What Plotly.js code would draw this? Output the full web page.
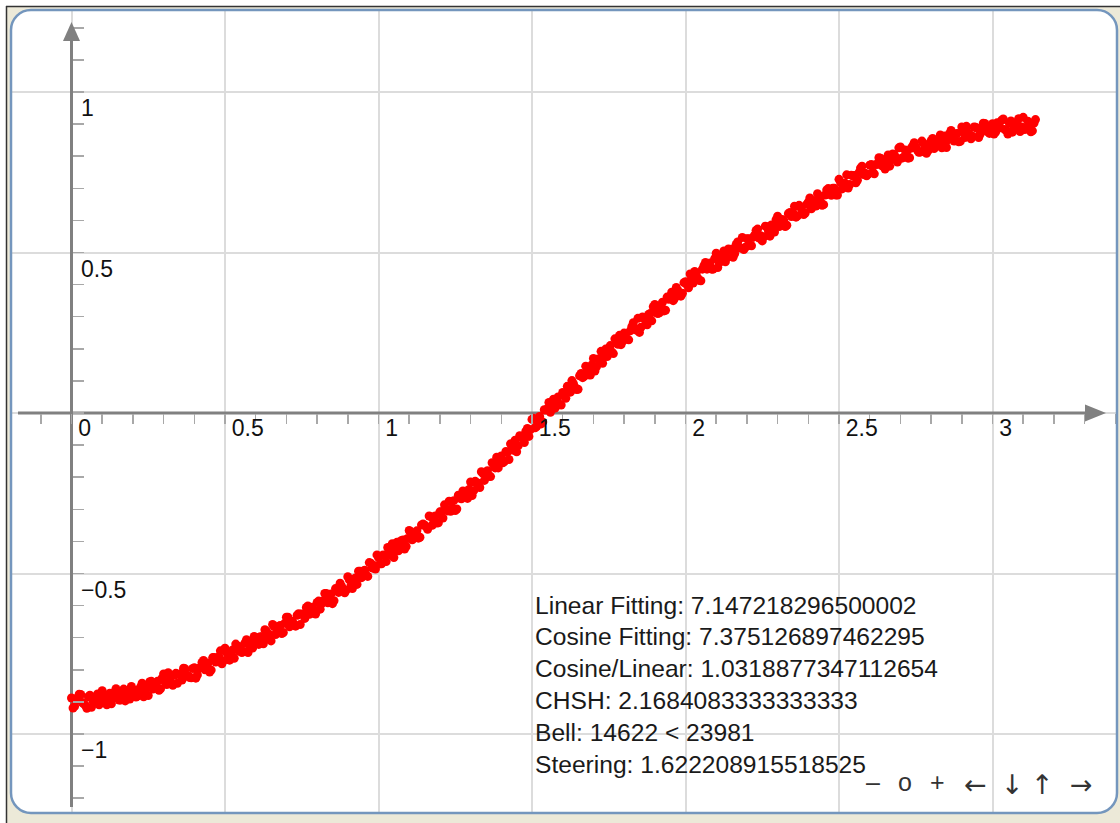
<!DOCTYPE html>
<html><head><meta charset="utf-8">
<script src="https://cdn.plot.ly/plotly-3.0.1.min.js"></script>
<style>html,body{margin:0;padding:0;background:#fff}#chart{width:1120px;height:823px}</style>
</head><body><div id="chart"></div>
<script>
// ---- data (two interleaved batches of samples) ----
const xBatchA = [
0,0.01,0.02,0.03,0.04,0.05,0.06,0.07,0.08,0.09,
0.10,0.11,0.12,0.13,0.14,0.15,0.16,0.17,0.18,0.19,
0.20,0.21,0.22,0.23,0.24,0.25,0.26,0.27,0.28,0.29,
0.30,0.31,0.32,0.33,0.34,0.35,0.36,0.37,0.38,0.39,
0.40,0.41,0.42,0.43,0.44,0.45,0.46,0.47,0.48,0.49,
0.50,0.51,0.52,0.53,0.54,0.55,0.56,0.57,0.58,0.59,
0.60,0.61,0.62,0.63,0.64,0.65,0.66,0.67,0.68,0.69,
0.70,0.71,0.72,0.73,0.74,0.75,0.76,0.77,0.78,0.79,
0.80,0.81,0.82,0.83,0.84,0.85,0.86,0.87,0.88,0.89,
0.90,0.91,0.92,0.93,0.94,0.95,0.96,0.97,0.98,0.99,
1.00,1.01,1.02,1.03,1.04,1.05,1.06,1.07,1.08,1.09,
1.10,1.11,1.12,1.13,1.14,1.15,1.16,1.17,1.18,1.19,
1.20,1.21,1.22,1.23,1.24,1.25,1.26,1.27,1.28,1.29,
1.30,1.31,1.32,1.33,1.34,1.35,1.36,1.37,1.38,1.39,
1.40,1.41,1.42,1.43,1.44,1.45,1.46,1.47,1.48,1.49,
1.50,1.51,1.52,1.53,1.54,1.55,1.56,1.57,1.58,1.59,
1.60,1.61,1.62,1.63,1.64,1.65,1.66,1.67,1.68,1.69,
1.70,1.71,1.72,1.73,1.74,1.75,1.76,1.77,1.78,1.79,
1.80,1.81,1.82,1.83,1.84,1.85,1.86,1.87,1.88,1.89,
1.90,1.91,1.92,1.93,1.94,1.95,1.96,1.97,1.98,1.99,
2.00,2.01,2.02,2.03,2.04,2.05,2.06,2.07,2.08,2.09,
2.10,2.11,2.12,2.13,2.14,2.15,2.16,2.17,2.18,2.19,
2.20,2.21,2.22,2.23,2.24,2.25,2.26,2.27,2.28,2.29,
2.30,2.31,2.32,2.33,2.34,2.35,2.36,2.37,2.38,2.39,
2.40,2.41,2.42,2.43,2.44,2.45,2.46,2.47,2.48,2.49,
2.50,2.51,2.52,2.53,2.54,2.55,2.56,2.57,2.58,2.59,
2.60,2.61,2.62,2.63,2.64,2.65,2.66,2.67,2.68,2.69,
2.70,2.71,2.72,2.73,2.74,2.75,2.76,2.77,2.78,2.79,
2.80,2.81,2.82,2.83,2.84,2.85,2.86,2.87,2.88,2.89,
2.90,2.91,2.92,2.93,2.94,2.95,2.96,2.97,2.98,2.99,
3.00,3.01,3.02,3.03,3.04,3.05,3.06,3.07,3.08,3.09,
3.10,3.11,3.12,3.13,3.14
];
const yBatchA = [
-0.888,-0.914,-0.894,-0.877,-0.906,-0.920,-0.879,-0.897,-0.884,-0.909,
-0.865,-0.900,-0.886,-0.906,-0.870,-0.876,-0.894,-0.860,-0.883,-0.891,
-0.861,-0.885,-0.862,-0.842,-0.868,-0.880,-0.836,-0.852,-0.836,-0.859,
-0.813,-0.846,-0.831,-0.848,-0.811,-0.815,-0.832,-0.797,-0.818,-0.825,
-0.794,-0.816,-0.793,-0.771,-0.797,-0.807,-0.762,-0.776,-0.759,-0.781,
-0.733,-0.764,-0.748,-0.764,-0.726,-0.728,-0.743,-0.706,-0.727,-0.732,
-0.699,-0.721,-0.697,-0.675,-0.700,-0.710,-0.665,-0.679,-0.662,-0.684,
-0.636,-0.666,-0.649,-0.664,-0.625,-0.626,-0.640,-0.601,-0.620,-0.624,
-0.590,-0.611,-0.585,-0.562,-0.585,-0.594,-0.547,-0.559,-0.540,-0.560,
-0.510,-0.539,-0.520,-0.534,-0.493,-0.493,-0.505,-0.466,-0.483,-0.486,
-0.450,-0.470,-0.444,-0.419,-0.442,-0.450,-0.403,-0.415,-0.396,-0.416,
-0.366,-0.395,-0.376,-0.390,-0.349,-0.349,-0.362,-0.323,-0.340,-0.343,
-0.308,-0.327,-0.300,-0.275,-0.297,-0.304,-0.256,-0.267,-0.247,-0.266,
-0.215,-0.242,-0.220,-0.232,-0.188,-0.186,-0.197,-0.155,-0.171,-0.171,
-0.134,-0.151,-0.122,-0.096,-0.116,-0.121,-0.071,-0.079,-0.057,-0.073,
-0.020,-0.046,-0.024,-0.034,0.010,0.013,0.002,0.043,0.028,0.027,
0.064,0.046,0.074,0.101,0.080,0.074,0.123,0.114,0.135,0.118,
0.170,0.144,0.166,0.155,0.199,0.202,0.190,0.231,0.214,0.213,
0.249,0.230,0.256,0.281,0.258,0.251,0.299,0.287,0.307,0.287,
0.338,0.310,0.331,0.318,0.361,0.362,0.350,0.391,0.374,0.373,
0.409,0.390,0.417,0.441,0.419,0.412,0.459,0.448,0.467,0.448,
0.498,0.468,0.486,0.471,0.511,0.510,0.496,0.533,0.514,0.509,
0.543,0.522,0.547,0.569,0.545,0.536,0.582,0.568,0.586,0.564,
0.613,0.583,0.600,0.585,0.625,0.624,0.610,0.647,0.628,0.623,
0.657,0.636,0.660,0.683,0.658,0.649,0.695,0.682,0.700,0.679,
0.728,0.698,0.716,0.701,0.741,0.740,0.725,0.763,0.743,0.739,
0.772,0.750,0.774,0.795,0.770,0.760,0.804,0.789,0.805,0.782,
0.829,0.797,0.812,0.795,0.832,0.829,0.812,0.847,0.824,0.817,
0.848,0.824,0.846,0.866,0.839,0.827,0.870,0.854,0.869,0.845,
0.891,0.858,0.873,0.854,0.891,0.887,0.869,0.903,0.879,0.871,
0.901,0.875,0.895,0.912,0.883,0.869,0.910,0.891,0.904,0.877,
0.921,0.886,0.899,0.879,0.914
];
const xBatchB = [
0.005,0.015,0.025,0.035,0.045,0.055,0.065,0.075,0.085,0.095,
0.105,0.115,0.125,0.135,0.145,0.155,0.165,0.175,0.185,0.195,
0.205,0.215,0.225,0.235,0.245,0.255,0.265,0.275,0.285,0.295,
0.305,0.315,0.325,0.335,0.345,0.355,0.365,0.375,0.385,0.395,
0.405,0.415,0.425,0.435,0.445,0.455,0.465,0.475,0.485,0.495,
0.505,0.515,0.525,0.535,0.545,0.555,0.565,0.575,0.585,0.595,
0.605,0.615,0.625,0.635,0.645,0.655,0.665,0.675,0.685,0.695,
0.705,0.715,0.725,0.735,0.745,0.755,0.765,0.775,0.785,0.795,
0.805,0.815,0.825,0.835,0.845,0.855,0.865,0.875,0.885,0.895,
0.905,0.915,0.925,0.935,0.945,0.955,0.965,0.975,0.985,0.995,
1.005,1.015,1.025,1.035,1.045,1.055,1.065,1.075,1.085,1.095,
1.105,1.115,1.125,1.135,1.145,1.155,1.165,1.175,1.185,1.195,
1.205,1.215,1.225,1.235,1.245,1.255,1.265,1.275,1.285,1.295,
1.305,1.315,1.325,1.335,1.345,1.355,1.365,1.375,1.385,1.395,
1.405,1.415,1.425,1.435,1.445,1.455,1.465,1.475,1.485,1.495,
1.505,1.515,1.525,1.535,1.545,1.555,1.565,1.575,1.585,1.595,
1.605,1.615,1.625,1.635,1.645,1.655,1.665,1.675,1.685,1.695,
1.705,1.715,1.725,1.735,1.745,1.755,1.765,1.775,1.785,1.795,
1.805,1.815,1.825,1.835,1.845,1.855,1.865,1.875,1.885,1.895,
1.905,1.915,1.925,1.935,1.945,1.955,1.965,1.975,1.985,1.995,
2.005,2.015,2.025,2.035,2.045,2.055,2.065,2.075,2.085,2.095,
2.105,2.115,2.125,2.135,2.145,2.155,2.165,2.175,2.185,2.195,
2.205,2.215,2.225,2.235,2.245,2.255,2.265,2.275,2.285,2.295,
2.305,2.315,2.325,2.335,2.345,2.355,2.365,2.375,2.385,2.395,
2.405,2.415,2.425,2.435,2.445,2.455,2.465,2.475,2.485,2.495,
2.505,2.515,2.525,2.535,2.545,2.555,2.565,2.575,2.585,2.595,
2.605,2.615,2.625,2.635,2.645,2.655,2.665,2.675,2.685,2.695,
2.705,2.715,2.725,2.735,2.745,2.755,2.765,2.775,2.785,2.795,
2.805,2.815,2.825,2.835,2.845,2.855,2.865,2.875,2.885,2.895,
2.905,2.915,2.925,2.935,2.945,2.955,2.965,2.975,2.985,2.995,
3.005,3.015,3.025,3.035,3.045,3.055,3.065,3.075,3.085,3.095,
3.105,3.115,3.125,3.135
];
const yBatchB = [
-0.919,-0.890,-0.876,-0.902,-0.910,-0.884,-0.917,-0.890,-0.875,-0.900,
-0.883,-0.909,-0.873,-0.887,-0.859,-0.894,-0.871,-0.897,-0.868,-0.852,
-0.876,-0.882,-0.853,-0.884,-0.854,-0.837,-0.860,-0.841,-0.864,-0.826,
-0.838,-0.809,-0.842,-0.817,-0.842,-0.812,-0.795,-0.819,-0.824,-0.796,
-0.826,-0.796,-0.777,-0.800,-0.779,-0.801,-0.762,-0.772,-0.741,-0.772,
-0.746,-0.770,-0.738,-0.720,-0.742,-0.746,-0.716,-0.746,-0.715,-0.696,
-0.718,-0.697,-0.719,-0.680,-0.690,-0.659,-0.690,-0.664,-0.687,-0.655,
-0.636,-0.657,-0.661,-0.630,-0.659,-0.627,-0.606,-0.627,-0.605,-0.626,
-0.586,-0.594,-0.562,-0.591,-0.564,-0.585,-0.551,-0.530,-0.550,-0.552,
-0.520,-0.547,-0.514,-0.493,-0.513,-0.490,-0.509,-0.468,-0.475,-0.442,
-0.470,-0.442,-0.463,-0.428,-0.407,-0.427,-0.429,-0.397,-0.424,-0.391,
-0.370,-0.390,-0.367,-0.387,-0.346,-0.354,-0.321,-0.350,-0.321,-0.342,
-0.308,-0.286,-0.305,-0.306,-0.273,-0.299,-0.265,-0.243,-0.262,-0.238,
-0.257,-0.213,-0.219,-0.183,-0.210,-0.180,-0.198,-0.162,-0.138,-0.156,
-0.155,-0.120,-0.145,-0.109,-0.085,-0.102,-0.076,-0.092,-0.048,-0.052,
-0.016,-0.042,-0.011,-0.028,0.009,0.033,0.015,0.015,0.050,0.025,
0.060,0.083,0.065,0.091,0.073,0.116,0.110,0.146,0.119,0.150,
0.131,0.168,0.192,0.175,0.176,0.210,0.185,0.219,0.242,0.223,
0.247,0.228,0.269,0.262,0.295,0.267,0.296,0.275,0.310,0.331,
0.312,0.312,0.345,0.320,0.354,0.376,0.358,0.382,0.364,0.406,
0.399,0.433,0.405,0.433,0.413,0.448,0.469,0.450,0.448,0.481,
0.453,0.485,0.505,0.484,0.506,0.485,0.525,0.515,0.547,0.516,
0.543,0.521,0.554,0.573,0.552,0.549,0.580,0.551,0.583,0.602,
0.581,0.603,0.581,0.621,0.612,0.644,0.614,0.640,0.618,0.650,
0.670,0.649,0.645,0.676,0.647,0.679,0.699,0.678,0.700,0.679,
0.719,0.710,0.742,0.712,0.739,0.717,0.749,0.769,0.747,0.744,
0.774,0.745,0.775,0.794,0.772,0.792,0.769,0.807,0.796,0.826,
0.794,0.819,0.794,0.825,0.842,0.819,0.813,0.840,0.809,0.838,
0.855,0.831,0.850,0.826,0.863,0.851,0.880,0.847,0.871,0.846,
0.876,0.893,0.868,0.862,0.890,0.858,0.886,0.902,0.876,0.894,
0.869,0.904,0.889,0.916,0.881,0.903,0.875,0.903,0.917,0.891,
0.883,0.909,0.876,0.903
];
const xTickVals = [0, 0.5, 1, 1.5, 2, 2.5, 3];
const xTickText = ['0', '0.5', '1', '1.5', '2', '2.5', '3'];
const yTickVals = [-1, -0.5, 0.5, 1];
const yTickText = ['\u22121', '\u22120.5', '0.5', '1'];
const infoLines = [
  'Linear Fitting: 7.147218296500002',
  'Cosine Fitting: 7.375126897462295',
  'Cosine/Linear: 1.0318877347112654',
  'CHSH: 2.1684083333333333',
  'Bell: 14622 &lt; 23981',
  'Steering: 1.622208915518525'
];
const navLabels = ['\u2013', 'o', '+', '\u2190', '\u2193', '\u2191', '\u2192'];

// ---- geometry (pixels) ----
const W = 1120, H = 823;
const BL = 11, BR = 1117, BT = 10, BB = 813;
const ORIGX = 71.5, ORIGY = 413, UX = 307, UY = 321;
const px2x = p => (p - ORIGX) / UX;
const py2y = p => (ORIGY - p) / UY;
const fx = p => (p - BL) / (BR - BL);
const fy = p => (BB - p) / (BB - BT);

const FONT = 'Liberation Sans, Arial, sans-serif';
const AXC = '#808080';
const TICKC = '#a8a8a8';
const GRIDC = '#dcdcdc';

function roundRectPath(L, T, R, B, r) {
  const k = 0.448 * r;
  const P = (x, y) => fx(x).toFixed(5) + ',' + fy(y).toFixed(5);
  return 'M' + P(L + r, T) +
    ' C' + P(L + k, T) + ' ' + P(L, T + k) + ' ' + P(L, T + r) +
    ' L' + P(L, B - r) +
    ' C' + P(L, B - k) + ' ' + P(L + k, B) + ' ' + P(L + r, B) +
    ' L' + P(R - r, B) +
    ' C' + P(R - k, B) + ' ' + P(R, B - k) + ' ' + P(R, B - r) +
    ' L' + P(R, T + r) +
    ' C' + P(R, T + k) + ' ' + P(R - k, T) + ' ' + P(R - r, T) + ' Z';
}
function P2(x, y) { return fx(x).toFixed(5) + ',' + fy(y).toFixed(5); }
const outerRect = 'M' + P2(BL - 2, BT - 2) + ' L' + P2(BR + 2, BT - 2) + ' L' + P2(BR + 2, BB + 2) + ' L' + P2(BL - 2, BB + 2) + ' Z ';
const innerRR = roundRectPath(BL, BT, BR, BB, 20);

const shapes = [
  {type:'rect', xref:'paper', yref:'paper', x0:fx(0), x1:fx(W), y0:fy(0), y1:fy(6), fillcolor:'#ffffff', line:{width:0}, layer:'above'},
  {type:'rect', xref:'paper', yref:'paper', x0:fx(0), x1:fx(6), y0:fy(0), y1:fy(H), fillcolor:'#ffffff', line:{width:0}, layer:'above'},
  {type:'line', xref:'paper', yref:'paper', x0:fx(6), x1:fx(W), y0:fy(6.5), y1:fy(6.5), line:{color:'#333333', width:1.5}, layer:'above'},
  {type:'line', xref:'paper', yref:'paper', x0:fx(6.5), x1:fx(6.5), y0:fy(6), y1:fy(H), line:{color:'#333333', width:1.5}, layer:'above'},
  {type:'path', xref:'paper', yref:'paper', path: outerRect + innerRR, fillcolor:'#ece9d8', line:{width:0}, layer:'above'},
  {type:'path', xref:'paper', yref:'paper', path: innerRR, fillcolor:'rgba(0,0,0,0)', line:{color:'#7496bd', width:2.5}, layer:'above'},
  {type:'line', xref:'x', yref:'y', x0:px2x(18), x1:px2x(1088), y0:0, y1:0, line:{color:AXC, width:3}, layer:'between'},
  {type:'line', xref:'x', yref:'y', x0:0, x1:0, y0:py2y(807), y1:py2y(38), line:{color:AXC, width:3}, layer:'between'},
  {type:'path', xref:'x', yref:'y',
   path:'M' + px2x(1106) + ',0 L' + px2x(1085) + ',' + py2y(ORIGY - 8.5) + ' L' + px2x(1085) + ',' + py2y(ORIGY + 8.5) + ' Z',
   fillcolor:AXC, line:{width:0}, layer:'above'},
  {type:'path', xref:'x', yref:'y',
   path:'M0,' + py2y(22) + ' L' + px2x(ORIGX - 8.5) + ',' + py2y(41) + ' L' + px2x(ORIGX + 8.5) + ',' + py2y(41) + ' Z',
   fillcolor:AXC, line:{width:0}, layer:'above'}
];

const annotations = [];
// y tick labels: right of the axis, just below each grid line
yTickVals.forEach((v, i) => {
  annotations.push({xref:'x', yref:'y', x:0, y:v, text:yTickText[i], showarrow:false,
    xanchor:'left', yanchor:'middle', xshift:7, yshift:-16,
    font:{family:FONT, size:23, color:'#111111'}});
});
infoLines.forEach((t, i) => {
  annotations.push({xref:'paper', yref:'paper', x:fx(533), y:fy(605 + i * 31.8), text:t, showarrow:false,
    xanchor:'left', yanchor:'middle', font:{family:FONT, size:24.6, color:'#1a1a1a'}});
});
const navX = [873, 905, 937, 975, 1012, 1042, 1081];
navLabels.forEach((t, i) => {
  const isArrow = i >= 3;
  annotations.push({xref:'paper', yref:'paper', x:fx(navX[i]), y:fy(isArrow ? 784 : 782), text:t, showarrow:false,
    xanchor:'center', yanchor:'middle',
    font:{family: isArrow ? 'DejaVu Sans, sans-serif' : FONT, size: isArrow ? 27 : 25, color:'#333333'}});
});

const trace = {
  type:'scatter', mode:'markers',
  x: xBatchA.concat(xBatchB), y: yBatchA.concat(yBatchB),
  marker:{color:'#ff0000', size:9, line:{width:0}}, hoverinfo:'skip'
};

const layout = {
  width:W, height:H,
  margin:{l:BL, r:W - BR, t:BT, b:H - BB, pad:0},
  paper_bgcolor:'#ece9d8', plot_bgcolor:'#ffffff',
  showlegend:false,
  xaxis:{
    range:[px2x(BL), px2x(BR)], anchor:'free', position:fy(ORIGY),
    showgrid:true, gridcolor:GRIDC, gridwidth:2, zeroline:false, showline:false,
    tickmode:'array', tickvals:xTickVals, ticktext:xTickText,
    ticks:'outside', ticklen:10, tickwidth:1.5, tickcolor:TICKC,
    ticklabelposition:'outside right', ticklabelshift:6, ticklabelstandoff:-6,
    tickfont:{family:FONT, size:23, color:'#111111'},
    minor:{tickmode:'linear', tick0:0, dtick:0.1, ticks:'outside', ticklen:10, tickwidth:1.5, tickcolor:TICKC, showgrid:false},
    fixedrange:true
  },
  yaxis:{
    range:[py2y(BB), py2y(BT)], anchor:'free', position:fx(ORIGX),
    showgrid:true, gridcolor:GRIDC, gridwidth:2, zeroline:false, showline:false,
    tickmode:'linear', tick0:0, dtick:0.5, showticklabels:false,
    ticks:'inside', ticklen:11, tickwidth:1.5, tickcolor:TICKC,
    minor:{tickmode:'linear', tick0:0, dtick:0.1, ticks:'inside', ticklen:11, tickwidth:1.5, tickcolor:TICKC, showgrid:false},
    fixedrange:true
  },
  shapes:shapes,
  annotations:annotations
};

Plotly.newPlot('chart', [trace], layout, {displayModeBar:false, staticPlot:true});
</script>
</body></html>
